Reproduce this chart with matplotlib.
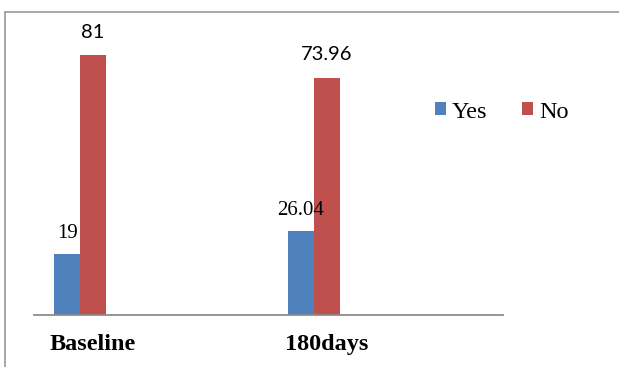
import matplotlib
matplotlib.use("Agg")
import matplotlib.pyplot as plt
from matplotlib.lines import Line2D
from matplotlib.patches import Patch
import numpy as np

# Survey answers at the two time points (percent)
groups = ["Baseline", "180days"]
yes_vals = [19, 26.04]
no_vals = [81, 73.96]
yes_labels = ["19", "26.04"]
no_labels = ["81", "73.96"]

blue = "#4F81BD"
red = "#C0504D"

fig = plt.figure(figsize=(6.19, 3.67), dpi=100)
ax = fig.add_axes([34 / 619, 52 / 367, 469 / 619, 289 / 367])

x = np.arange(len(groups))
w = 0.111
ax.bar(x - w / 2, yes_vals, width=w, color=blue, label="Yes")
ax.bar(x + w / 2, no_vals, width=w, color=red, label="No")

# value labels: serif for Yes, sans for No
for xi, v, t in zip(x, yes_vals, yes_labels):
    ax.annotate(t, (xi - w / 2, v), xytext=(0, 11.5), textcoords="offset points",
                ha="center", va="baseline", fontsize=15, family="Liberation Serif")
for xi, v, t in zip(x, no_vals, no_labels):
    ax.annotate(t, (xi + w / 2, v), xytext=(0, 12.5), textcoords="offset points",
                ha="center", va="baseline", fontsize=14.5, family="Lato")

ax.set_xlim(-0.197, 1.808)
ax.set_ylim(0, 90)
ax.set_xticks(x + w / 2)
ax.set_xticklabels(groups, fontsize=17.5, fontweight="bold", family="Liberation Serif")
ax.tick_params(axis="x", length=0, pad=14)
ax.set_yticks([])
for s in ["top", "right", "left"]:
    ax.spines[s].set_visible(False)
ax.spines["bottom"].set_color("#8C8C8C")
ax.spines["bottom"].set_linewidth(1.3)

handles = [Patch(facecolor=blue, label="Yes"), Patch(facecolor=red, label="No")]
fig.legend(handles=handles, loc="center left", bbox_to_anchor=(413 / 619, 1 - 112 / 367),
           ncol=2, frameon=False, handlelength=0.46, handleheight=0.46,
           handletextpad=0.25, columnspacing=1.4,
           prop={"family": "Liberation Serif", "size": 17.5})

# chart frame (left and top edges)
fig.add_artist(Line2D([4.5 / 619, 4.5 / 619], [0, 1 - 12 / 367], transform=fig.transFigure,
                      color="#A0A0A0", lw=1.3))
fig.add_artist(Line2D([4.5 / 619, 1], [1 - 12 / 367, 1 - 12 / 367], transform=fig.transFigure,
                      color="#A0A0A0", lw=1.3))

fig.savefig("out.png", dpi=100)
